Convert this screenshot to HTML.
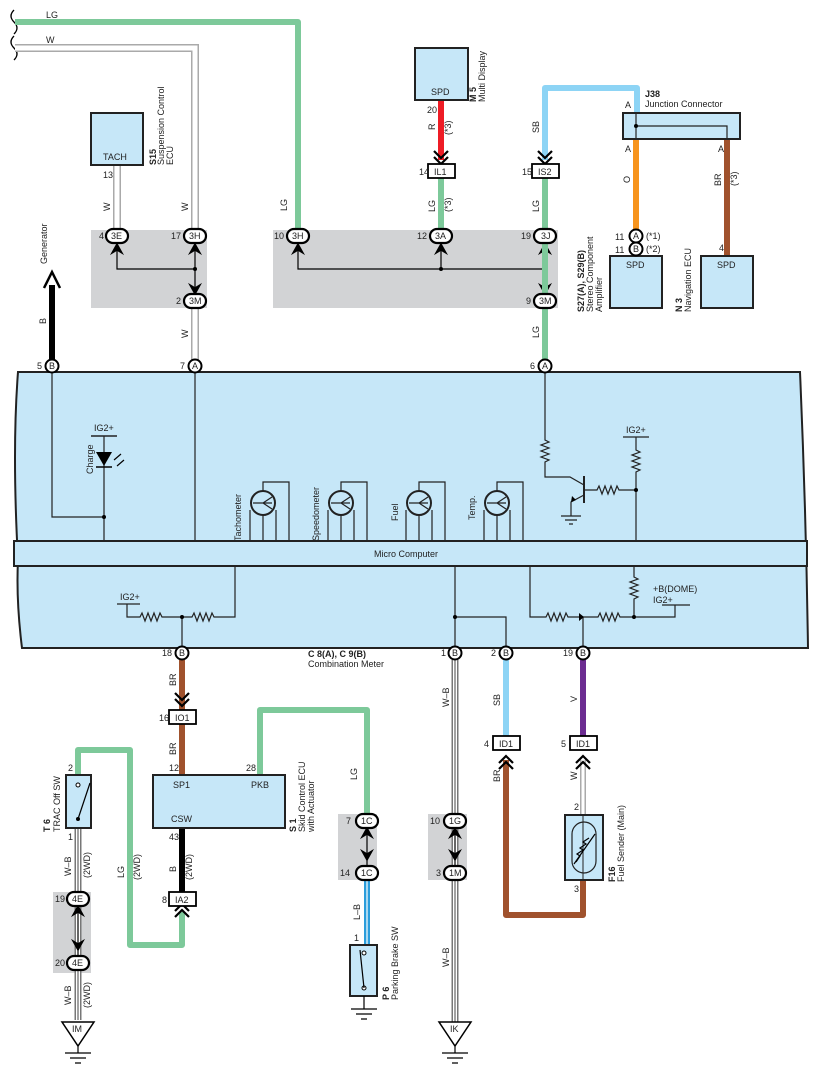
<!DOCTYPE html>
<html><head><meta charset="utf-8"><style>
html,body{margin:0;padding:0;background:#fff;}
svg{display:block;font-family:"Liberation Sans",Arial,sans-serif;}
text{font-size:9px;fill:#222;}
.b{font-weight:bold;}
</style></head><body>
<svg width="816" height="1075" viewBox="0 0 816 1075" xmlns="http://www.w3.org/2000/svg">
<defs>
<g id="chev"><path d="M-7,-7 L0,0 L7,-7 M-7,-1 L0,6 L7,-1" fill="none" stroke="#000" stroke-width="2.2"/></g>
<g id="fork"><path d="M0,0 L-5,9 L0,6 L5,9 Z" fill="#000" stroke="#000" stroke-width="1.5"/></g>
<g id="gauge" fill="none" stroke="#222" stroke-width="1.2">
<circle cx="263" cy="503" r="12" fill="#c6e7f8" stroke-width="2"/>
<path d="M253,503 H272 M263,503 L272,497 M263,503 L272,509"/>
<path d="M250,510 V541 M263,515 V541 M276,510 V541 M263,491 V482 H289 V541"/>
</g>
</defs>

<!-- gray splice boxes -->
<rect x="91" y="230" width="116" height="78" fill="#d2d3d5"/>
<rect x="273" y="230" width="285" height="78" fill="#d2d3d5"/>
<rect x="53" y="892" width="38" height="81" fill="#d2d3d5"/>
<rect x="338" y="814" width="39" height="66" fill="#d2d3d5"/>
<rect x="428" y="814" width="39" height="66" fill="#d2d3d5"/>

<!-- break marks -->
<path d="M14,10 q-6,6 0,12 q6,6 0,12 M14,36 q-6,6 0,12 q6,6 0,12" fill="none" stroke="#000" stroke-width="1.3"/>

<!-- LG top wire -->
<path d="M15,22 H298 V236" fill="none" stroke="#7dc99a" stroke-width="6" stroke-linejoin="round"/>
<text x="46" y="18">LG</text>
<!-- W top wire (double) -->
<path d="M15,48 H195 V236" fill="none" stroke="#aaa" stroke-width="8"/>
<path d="M15,48 H195 V236" fill="none" stroke="#fff" stroke-width="5"/>
<text x="46" y="43">W</text>

<!-- S15 -->
<path d="M117,165 V236" stroke="#aaa" stroke-width="8"/><path d="M117,165 V236" stroke="#fff" stroke-width="5"/>
<rect x="91" y="113" width="52" height="52" fill="#c6e7f8" stroke="#222" stroke-width="2"/>
<text x="103" y="160" font-size="8">TACH</text>
<text x="103" y="178" font-size="7">13</text>
<text transform="translate(110,211) rotate(-90)">W</text>
<text transform="translate(188,211) rotate(-90)">W</text>
<text transform="translate(156,165) rotate(-90)" class="b">S15</text>
<text transform="translate(164,165) rotate(-90)">Suspension Control</text>
<text transform="translate(173,165) rotate(-90)">ECU</text>

<!-- 3M down W -->
<path d="M195,301 V366" stroke="#aaa" stroke-width="8"/><path d="M195,301 V366" stroke="#fff" stroke-width="5"/>
<text transform="translate(188,338) rotate(-90)">W</text>

<!-- generator -->
<path d="M52,366 V285" stroke="#000" stroke-width="6"/>
<path d="M44,288 L52,272 L60,288" fill="none" stroke="#000" stroke-width="2.5"/>
<text transform="translate(47,264) rotate(-90)">Generator</text>
<text transform="translate(46,324) rotate(-90)">B</text>
<text transform="translate(287,211) rotate(-90)">LG</text>

<!-- splice internals -->
<path d="M117,250 V269 H195 M195,250 V287 M298,250 V269 H545 M441,250 V269 M545,250 V287" fill="none" stroke="#000" stroke-width="1.2"/>
<circle cx="195" cy="269" r="2" fill="#000"/><circle cx="441" cy="269" r="2" fill="#000"/><circle cx="545" cy="269" r="2" fill="#000"/>
<use href="#fork" x="117" y="244"/><use href="#fork" x="195" y="244"/><use href="#fork" x="298" y="244"/><use href="#fork" x="441" y="244"/><use href="#fork" x="545" y="244"/>
<use href="#fork" transform="translate(195,294) rotate(180)"/><use href="#fork" transform="translate(545,294) rotate(180)"/>

<!-- M5 -->
<path d="M441,100 V160" stroke="#ee1c25" stroke-width="6"/>
<use href="#chev" x="441" y="158"/>
<rect x="415" y="48" width="53" height="52" fill="#c6e7f8" stroke="#222" stroke-width="2"/>
<text x="431" y="95" font-size="8">SPD</text>
<text x="427" y="113" font-size="8">20</text>
<text transform="translate(435,130) rotate(-90)">R</text>
<text transform="translate(451,135) rotate(-90)" font-size="7">(*3)</text>
<text transform="translate(476,102) rotate(-90)" class="b">M 5</text>
<text transform="translate(485,102) rotate(-90)">Multi Display</text>
<path d="M441,178 V236" stroke="#7dc99a" stroke-width="6"/>
<text transform="translate(435,212) rotate(-90)">LG</text>
<text transform="translate(451,212) rotate(-90)" font-size="7">(*3)</text>

<!-- SB top -->
<path d="M545,160 V88 H637 V113" fill="none" stroke="#8dd4f5" stroke-width="6" stroke-linejoin="round"/>
<use href="#chev" x="545" y="158"/>
<text transform="translate(539,133) rotate(-90)">SB</text>
<path d="M545,178 V366" stroke="#7dc99a" stroke-width="6"/>
<text transform="translate(539,212) rotate(-90)">LG</text>
<text transform="translate(539,338) rotate(-90)">LG</text>

<!-- J38 -->
<text x="645" y="97" class="b">J38</text>
<text x="645" y="107">Junction Connector</text>
<text x="625" y="108">A</text>
<text x="625" y="152">A</text>
<text x="718" y="152">A</text>
<path d="M636,139 V230" stroke="#f7941d" stroke-width="6"/>
<path d="M727,139 V256" stroke="#a0522d" stroke-width="6"/>
<rect x="623" y="113" width="117" height="26" fill="#c6e7f8" stroke="#222" stroke-width="2"/>
<path d="M636,113 V139 M636,126 H727 V139" fill="none" stroke="#222" stroke-width="1.2"/>
<circle cx="636" cy="126" r="2" fill="#000"/>
<text transform="translate(630,183) rotate(-90)">O</text>
<text transform="translate(721,186) rotate(-90)">BR</text>
<text transform="translate(737,186) rotate(-90)" font-size="7">(*3)</text>
<text x="615" y="240" font-size="8">11</text><text x="615" y="253" font-size="8">11</text>
<text x="646" y="239" font-size="7">(*1)</text><text x="646" y="252" font-size="7">(*2)</text>
<rect x="610" y="256" width="52" height="52" fill="#c6e7f8" stroke="#222" stroke-width="2"/>
<text x="626" y="268" font-size="8">SPD</text>
<rect x="701" y="256" width="52" height="52" fill="#c6e7f8" stroke="#222" stroke-width="2"/>
<text x="717" y="268" font-size="8">SPD</text>
<text x="719" y="251" font-size="8">4</text>
<text transform="translate(584,312) rotate(-90)" class="b">S27(A), S29(B)</text>
<text transform="translate(593,312) rotate(-90)">Stereo Component</text>
<text transform="translate(602,312) rotate(-90)">Amplifier</text>
<text transform="translate(682,312) rotate(-90)" class="b">N 3</text>
<text transform="translate(691,312) rotate(-90)">Navigation ECU</text>

<!-- main meter box -->
<path d="M18,372 H800 Q806,510 808,648 H22 Q16,600 18,560 Q12,450 18,372 Z" fill="#c6e7f8" stroke="#222" stroke-width="2"/>
<rect x="14" y="541" width="793" height="25" fill="#c6e7f8" stroke="#222" stroke-width="2"/>
<text x="374" y="557" font-size="8">Micro Computer</text>

<!-- upper internals -->
<path d="M52,372 V517 H104 M104,436 V541 M195,372 V541" fill="none" stroke="#222" stroke-width="1.2"/>
<circle cx="104" cy="517" r="2" fill="#000"/>
<path d="M91,436 H117" stroke="#222" stroke-width="1.5"/>
<text x="94" y="431" font-size="8">IG2+</text>
<path d="M96,452 H112 L104,466 Z" fill="#000"/><path d="M96,467 H112" stroke="#000" stroke-width="1.5"/>
<path d="M114,460 l7,-6 M117,466 l7,-6" stroke="#000" stroke-width="1.2"/>
<text transform="translate(93,474) rotate(-90)" font-size="8">Charge</text>

<use href="#gauge"/><use href="#gauge" x="78"/><use href="#gauge" x="156"/><use href="#gauge" x="234"/>
<text transform="translate(241,541) rotate(-90)" font-size="8">Tachometer</text>
<text transform="translate(319,541) rotate(-90)" font-size="8">Speedometer</text>
<text transform="translate(398,521) rotate(-90)" font-size="8">Fuel</text>
<text transform="translate(475,520) rotate(-90)" font-size="8">Temp.</text>

<!-- transistor section -->
<g fill="none" stroke="#222" stroke-width="1.2">
<path d="M545,372 V440 l4,2 -8,3 8,3 -8,3 8,3 -8,3 8,3 -4,2 V477 H570 L584,485"/>
<path d="M584,476 V503" stroke-width="2"/>
<path d="M584,495 L571,502 V516"/>
<path d="M584,490 H597 l2,-4 3,8 3,-8 3,8 3,-8 3,8 3,-8 2,4 H636"/>
<path d="M623,437 H649 M636,437 V450 l4,2 -8,3 8,3 -8,3 8,3 -8,3 8,3 -4,2 V541"/>
<path d="M561,516 H581 M565,520 H577 M569,524 H573"/>
</g>
<path d="M571,502 l1,-6 4,4 z" fill="#000"/>
<circle cx="636" cy="490" r="2" fill="#000"/>
<text x="626" y="433" font-size="8">IG2+</text>

<!-- lower internals -->
<g fill="none" stroke="#222" stroke-width="1.2">
<path d="M117,604 H140 M127,604 V617 H140 l2,-4 3,8 3,-8 3,8 3,-8 3,8 3,-8 2,4 H182 H192 l2,-4 3,8 3,-8 3,8 3,-8 3,8 3,-8 2,4 H235 V566"/>
<path d="M182,617 V648"/>
<path d="M455,566 V648 M455,617 H506 V648"/>
<path d="M530,566 V617 H546 l2,-4 3,8 3,-8 3,8 3,-8 3,8 3,-8 2,4 H598 l2,-4 3,8 3,-8 3,8 3,-8 3,8 3,-8 2,4 H675 V605 M662,605 H690"/>
<path d="M583,617 V648 M634,566 V577 l4,2 -8,3 8,3 -8,3 8,3 -8,3 8,3 -4,2 V617"/>
</g>
<path d="M579,613 L584,617 L579,621 Z" fill="#000"/>
<circle cx="182" cy="617" r="2" fill="#000"/><circle cx="455" cy="617" r="2" fill="#000"/><circle cx="634" cy="617" r="2" fill="#000"/>
<text x="120" y="600" font-size="8">IG2+</text>
<text x="653" y="592" font-size="8">+B(DOME)</text>
<text x="653" y="603" font-size="8">IG2+</text>
<text x="308" y="657" class="b">C 8(A), C 9(B)</text>
<text x="308" y="667">Combination Meter</text>

<!-- bottom wires -->
<path d="M182,660 V712" stroke="#a0522d" stroke-width="6"/>
<use href="#chev" x="182" y="700"/>
<text transform="translate(176,686) rotate(-90)">BR</text>
<path d="M182,723 V775" stroke="#a0522d" stroke-width="6"/>
<text transform="translate(176,755) rotate(-90)">BR</text>
<text x="169" y="771" font-size="8">12</text>
<text x="246" y="771" font-size="8">28</text>
<path d="M260,775 V710 H367 V821" fill="none" stroke="#7dc99a" stroke-width="6" stroke-linejoin="round"/>
<text transform="translate(357,780) rotate(-90)">LG</text>
<path d="M182,828 V893" stroke="#000" stroke-width="6"/>
<text x="169" y="840" font-size="8">43</text>
<text transform="translate(176,872) rotate(-90)">B</text>
<text transform="translate(192,880) rotate(-90)" font-size="7">(2WD)</text>
<path d="M182,912 V945 H130 V750 H78 V775" fill="none" stroke="#7dc99a" stroke-width="6" stroke-linejoin="round"/>
<use href="#chev" transform="translate(182,910) rotate(180)"/>
<text transform="translate(124,878) rotate(-90)">LG</text>
<text transform="translate(140,880) rotate(-90)" font-size="7">(2WD)</text>
<rect x="153" y="775" width="132" height="53" fill="#c6e7f8" stroke="#222" stroke-width="2"/>
<text x="173" y="788" font-size="8">SP1</text>
<text x="251" y="788" font-size="8">PKB</text>
<text x="171" y="822" font-size="8">CSW</text>
<text transform="translate(296,832) rotate(-90)" class="b">S 1</text>
<text transform="translate(305,832) rotate(-90)">Skid Control ECU</text>
<text transform="translate(314,832) rotate(-90)">with Actuator</text>

<!-- T6 -->
<path d="M78,828 V1020" stroke="#777" stroke-width="7"/><path d="M78,828 V1020" stroke="#fff" stroke-width="4"/>
<path d="M78,828 V1020" stroke="#444" stroke-width="1"/>
<rect x="66" y="775" width="25" height="53" fill="#c6e7f8" stroke="#222" stroke-width="2"/>
<circle cx="78" cy="785" r="2" fill="#fff" stroke="#000"/><circle cx="78" cy="819" r="2" fill="#000"/>
<path d="M78,819 L90,783" stroke="#000" stroke-width="1.2"/>
<text x="68" y="771" font-size="8">2</text><text x="68" y="840" font-size="8">1</text>
<text transform="translate(50,832) rotate(-90)" class="b">T 6</text>
<text transform="translate(60,832) rotate(-90)">TRAC Off SW</text>
<text transform="translate(71,876) rotate(-90)">W–B</text>
<text transform="translate(90,878) rotate(-90)" font-size="7">(2WD)</text>
<text transform="translate(71,1005) rotate(-90)">W–B</text>
<text transform="translate(90,1008) rotate(-90)" font-size="7">(2WD)</text>
<path d="M78,906 V956" stroke="#000" stroke-width="1.2"/>
<use href="#fork" x="78" y="906"/><use href="#fork" transform="translate(78,950) rotate(180)"/>
<path d="M62,1022 H94 L78,1046 Z" fill="#fff" stroke="#000" stroke-width="1.5"/>
<text x="72" y="1032" font-size="8">IM</text>
<path d="M78,1046 V1053 M65,1053 H91 M70,1058 H86 M75,1063 H81" stroke="#000" stroke-width="1.2"/>

<!-- P6 -->
<path d="M367,879 V945" stroke="#2b9ddb" stroke-width="6"/><path d="M367,879 V945" stroke="#fff" stroke-width="1.2"/>
<text transform="translate(360,920) rotate(-90)">L–B</text>
<text x="354" y="941" font-size="8">1</text>
<path d="M367,828 V866" stroke="#000" stroke-width="1.2"/>
<use href="#fork" x="367" y="828"/><use href="#fork" transform="translate(367,860) rotate(180)"/>
<rect x="350" y="945" width="27" height="51" fill="#c6e7f8" stroke="#222" stroke-width="2"/>
<circle cx="364" cy="953" r="2" fill="#fff" stroke="#000"/><circle cx="364" cy="988" r="2" fill="#fff" stroke="#000"/>
<path d="M364,988 L360,950" stroke="#000" stroke-width="1.2"/>
<path d="M364,996 V1009 M351,1009 H377 M356,1014 H372 M361,1019 H367" stroke="#000" stroke-width="1.2"/>
<text transform="translate(389,1000) rotate(-90)" class="b">P 6</text>
<text transform="translate(398,1000) rotate(-90)">Parking Brake SW</text>

<!-- IK -->
<path d="M455,660 V1022" stroke="#777" stroke-width="7"/><path d="M455,660 V1022" stroke="#fff" stroke-width="4"/>
<path d="M455,660 V1022" stroke="#444" stroke-width="1"/>
<text transform="translate(449,707) rotate(-90)">W–B</text>
<text transform="translate(449,967) rotate(-90)">W–B</text>
<path d="M455,828 V866" stroke="#000" stroke-width="1.2"/>
<use href="#fork" x="455" y="828"/><use href="#fork" transform="translate(455,860) rotate(180)"/>
<path d="M439,1022 H471 L455,1046 Z" fill="#fff" stroke="#000" stroke-width="1.5"/>
<text x="450" y="1032" font-size="8">IK</text>
<path d="M455,1046 V1053 M442,1053 H468 M447,1058 H463 M452,1063 H458" stroke="#000" stroke-width="1.2"/>

<!-- SB / V / fuel sender -->
<path d="M506,660 V737" stroke="#8dd4f5" stroke-width="6"/>
<text transform="translate(500,706) rotate(-90)">SB</text>
<path d="M583,660 V737" stroke="#6c2c91" stroke-width="6"/>
<text transform="translate(577,702) rotate(-90)">V</text>
<path d="M506,760 V915 H583 V880" fill="none" stroke="#a0522d" stroke-width="6" stroke-linejoin="round"/>
<use href="#chev" transform="translate(506,762) rotate(180)"/>
<text transform="translate(500,782) rotate(-90)">BR</text>
<path d="M583,760 V815" stroke="#aaa" stroke-width="6"/><path d="M583,760 V815" stroke="#fff" stroke-width="3"/>
<use href="#chev" transform="translate(583,762) rotate(180)"/>
<text transform="translate(577,780) rotate(-90)">W</text>
<text x="574" y="810" font-size="8">2</text><text x="574" y="892" font-size="8">3</text>
<rect x="565" y="815" width="38" height="65" fill="#c6e7f8" stroke="#222" stroke-width="2"/>
<rect x="572" y="822" width="24" height="51" rx="12" fill="#c6e7f8" stroke="#222" stroke-width="1.2"/>
<path d="M583,815 V880" stroke="#222" stroke-width="1"/>
<path d="M576,862 l4,-6 -3,-2 6,-4 -3,-2 6,-4 -3,-2 6,-4 M574,864 L595,834" fill="none" stroke="#000" stroke-width="1.2"/>
<text transform="translate(615,882) rotate(-90)" class="b">F16</text>
<text transform="translate(624,882) rotate(-90)">Fuel Sender (Main)</text>

<!-- rect connectors -->
<g fill="#fff" stroke="#000" stroke-width="1.8">
<rect x="428" y="164" width="27" height="14"/><rect x="532" y="164" width="27" height="14"/>
<rect x="169" y="710" width="27" height="14"/><rect x="169" y="892" width="27" height="14"/>
<rect x="493" y="736" width="27" height="14"/><rect x="570" y="736" width="27" height="14"/>
</g>
<g font-size="8">
<text x="434" y="175">IL1</text><text x="538" y="175">IS2</text><text x="419" y="175">14</text><text x="522" y="175">15</text>
<text x="175" y="721">IO1</text><text x="159" y="721">16</text>
<text x="175" y="903">IA2</text><text x="162" y="903">8</text>
<text x="499" y="747">ID1</text><text x="484" y="747">4</text>
<text x="576" y="747">ID1</text><text x="561" y="747">5</text>
</g>

<!-- oval connectors -->
<g fill="#fff" stroke="#000" stroke-width="2.2">
<rect x="106" y="229" width="22" height="14" rx="7"/><rect x="184" y="229" width="22" height="14" rx="7"/>
<rect x="184" y="294" width="22" height="14" rx="7"/><rect x="287" y="229" width="22" height="14" rx="7"/>
<rect x="430" y="229" width="22" height="14" rx="7"/><rect x="534" y="229" width="22" height="14" rx="7"/>
<rect x="534" y="294" width="22" height="14" rx="7"/>
<rect x="67" y="892" width="22" height="14" rx="7"/><rect x="67" y="956" width="22" height="14" rx="7"/>
<rect x="356" y="814" width="22" height="14" rx="7"/><rect x="356" y="866" width="22" height="14" rx="7"/>
<rect x="444" y="814" width="22" height="14" rx="7"/><rect x="444" y="866" width="22" height="14" rx="7"/>
</g>
<g font-size="8">
<text x="111" y="239">3E</text><text x="99" y="239">4</text>
<text x="189" y="239">3H</text><text x="171" y="239">17</text>
<text x="189" y="304">3M</text><text x="176" y="304">2</text>
<text x="292" y="239">3H</text><text x="274" y="239">10</text>
<text x="435" y="239">3A</text><text x="417" y="239">12</text>
<text x="541" y="239">3J</text><text x="521" y="239">19</text>
<text x="539" y="304">3M</text><text x="526" y="304">9</text>
<text x="72" y="902">4E</text><text x="55" y="902">19</text>
<text x="72" y="966">4E</text><text x="55" y="966">20</text>
<text x="361" y="824">1C</text><text x="346" y="824">7</text>
<text x="361" y="876">1C</text><text x="340" y="876">14</text>
<text x="449" y="824">1G</text><text x="430" y="824">10</text>
<text x="449" y="876">1M</text><text x="436" y="876">3</text>
</g>

<!-- circle pins -->
<g fill="#fff" stroke="#000" stroke-width="2">
<circle cx="52" cy="366" r="6.5"/><circle cx="195" cy="366" r="6.5"/><circle cx="545" cy="366" r="6.5"/>
<circle cx="636" cy="236" r="6.5"/><circle cx="636" cy="249" r="6.5"/>
<circle cx="182" cy="653" r="6.5"/><circle cx="455" cy="653" r="6.5"/><circle cx="506" cy="653" r="6.5"/><circle cx="583" cy="653" r="6.5"/>
</g>
<g font-size="8">
<text x="49" y="369">B</text><text x="37" y="369">5</text>
<text x="192" y="369">A</text><text x="180" y="369">7</text>
<text x="542" y="369">A</text><text x="530" y="369">6</text>
<text x="633" y="239">A</text><text x="633" y="252">B</text>
<text x="179" y="656">B</text><text x="162" y="656">18</text>
<text x="452" y="656">B</text><text x="441" y="656">1</text>
<text x="503" y="656">B</text><text x="491" y="656">2</text>
<text x="580" y="656">B</text><text x="563" y="656">19</text>
</g>
</svg>
</body></html>
